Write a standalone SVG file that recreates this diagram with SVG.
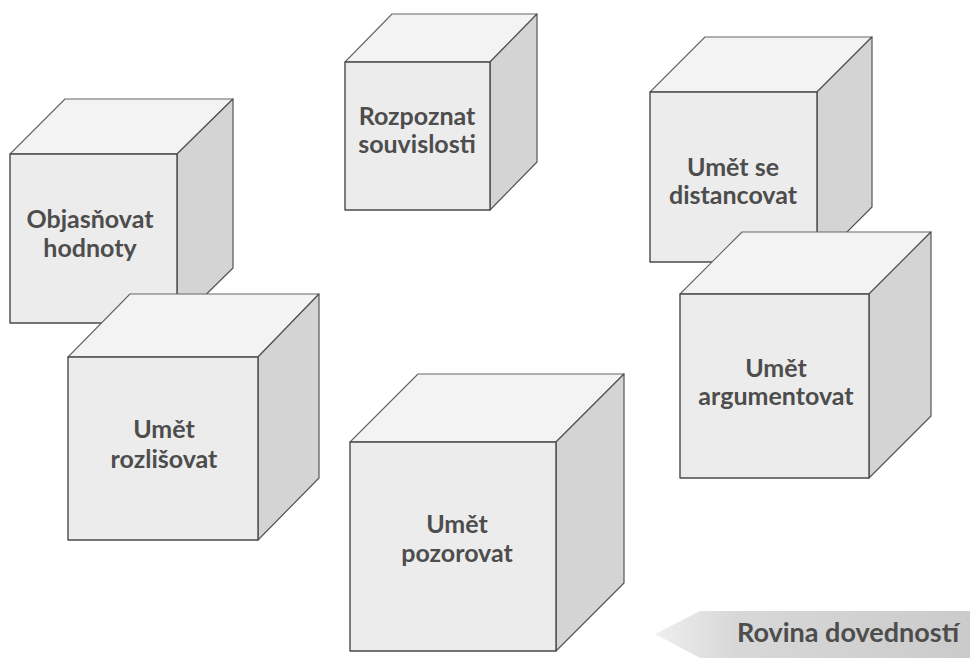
<svg xmlns="http://www.w3.org/2000/svg" width="970" height="660" viewBox="0 0 970 660">
<defs>
<linearGradient id="bannerGrad" x1="0" y1="0" x2="1" y2="0">
<stop offset="0" stop-color="#efefef"/>
<stop offset="0.25" stop-color="#d8d8d8"/>
<stop offset="1" stop-color="#cbcbcb"/>
</linearGradient>
</defs>
<style>
.front{fill:#ececec;stroke:#4a4a4a;stroke-width:1.4;stroke-linejoin:round}
.top{fill:#f3f3f3;stroke:#666;stroke-width:1.1;stroke-linejoin:round}
.right{fill:#d4d4d4;stroke:#555;stroke-width:1.2;stroke-linejoin:round}
.lbl{font-family:Lato,"Liberation Sans",sans-serif;font-weight:bold;font-size:25px;fill:#4d4d4d;text-anchor:middle}
.ban{font-size:27px}
</style>
<rect width="970" height="660" fill="#ffffff"/>

<g id="cube-objasnovat">
<polygon class="top" points="10,154 65,99 233,99 177,154"/>
<polygon class="right" points="177,154 233,99 233,268 177,323"/>
<rect class="front" x="10" y="154" width="167" height="169"/>
<text class="lbl" x="90" y="228">Objasňovat</text>
<text class="lbl" x="90" y="257">hodnoty</text>
</g>

<g id="cube-rozlisovat">
<polygon class="top" points="68,357 130,294 319,294 258,357"/>
<polygon class="right" points="258,357 319,294 319,478 258,540"/>
<rect class="front" x="68" y="357" width="190" height="183"/>
<text class="lbl" x="164" y="438">Umět</text>
<text class="lbl" x="164" y="468">rozlišovat</text>
</g>

<g id="cube-rozpoznat">
<polygon class="top" points="345,62 392,14 537,14 490,62"/>
<polygon class="right" points="490,62 537,14 537,162 490,210"/>
<rect class="front" x="345" y="62" width="145" height="148"/>
<text class="lbl" x="417" y="125">Rozpoznat</text>
<text class="lbl" x="417" y="153">souvislosti</text>
</g>

<g id="cube-distancovat">
<polygon class="top" points="650,92 705,37 872,37 817,92"/>
<polygon class="right" points="817,92 872,37 872,207 817,262"/>
<rect class="front" x="650" y="92" width="167" height="170"/>
<text class="lbl" x="733" y="176">Umět se</text>
<text class="lbl" x="733" y="204">distancovat</text>
</g>

<g id="cube-argumentovat">
<polygon class="top" points="680,294 742,232 931,232 869,294"/>
<polygon class="right" points="869,294 931,232 931,416 869,478"/>
<rect class="front" x="680" y="294" width="189" height="184"/>
<text class="lbl" x="776" y="377">Umět</text>
<text class="lbl" x="776" y="405">argumentovat</text>
</g>

<g id="cube-pozorovat">
<polygon class="top" points="350,442 418,374 624,374 556,442"/>
<polygon class="right" points="556,442 624,374 624,583 556,651"/>
<rect class="front" x="350" y="442" width="206" height="209"/>
<text class="lbl" x="457" y="533">Umět</text>
<text class="lbl" x="457" y="562">pozorovat</text>
</g>

<g id="connectors"></g>

<g id="banner-rovina">
<polygon points="655,634 700,611 970,611 970,658 700,658" fill="url(#bannerGrad)"/>
<text class="lbl ban" x="848" y="642">Rovina dovedností</text>
</g>
</svg>
